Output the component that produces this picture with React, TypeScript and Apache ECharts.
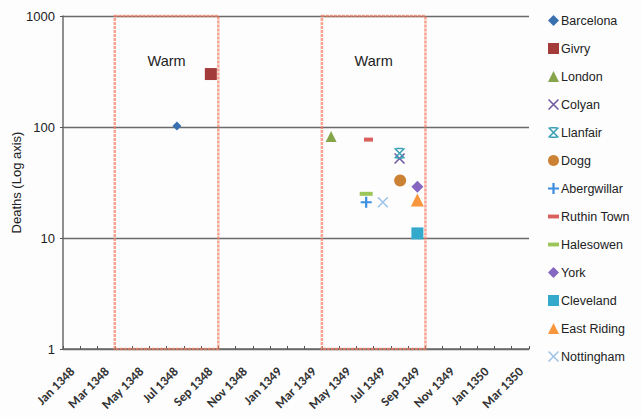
import React, { useEffect, useRef } from "react";
import * as echarts from "echarts";

// ---- data ----
const seriesNames = [
  "Barcelona", "Givry", "London", "Colyan", "Llanfair", "Dogg", "Abergwillar",
  "Ruthin Town", "Halesowen", "York", "Cleveland", "East Riding", "Nottingham",
];
const seriesDates = [
  "1348-07-19", "1348-09-18", "1349-04-17", "1349-08-16", "1349-08-16", "1349-08-17", "1349-06-18",
  "1349-06-22", "1349-06-18", "1349-09-17", "1349-09-17", "1349-09-17", "1349-07-17",
];
const seriesDeaths = [102, 300, 82, 52, 58, 33, 21, 77, 25, 29, 11, 22, 21];

const monthNames = ["Jan", "Feb", "Mar", "Apr", "May", "Jun", "Jul", "Aug", "Sep", "Oct", "Nov", "Dec"];
const axisStart = "1348-01-01";
const axisEnd = "1350-04-01";

const warmStarts = ["1348-04-01", "1349-04-01"];
const warmEnds = ["1348-10-01", "1349-10-01"];
const warmLabels = ["Warm", "Warm"];

// ---- styles ----
const colors = [
  "#3A6FB0", "#A33B3B", "#86A44A", "#6E58A0", "#3A9EB5", "#CC8235", "#3B8EE0",
  "#D9605C", "#9CC65A", "#8566C0", "#33AACC", "#F7963C", "#9DC3E6",
];
const X_PATH = "path://M1,0 L10,9 L9,10 L0,1 Z M9,0 L10,1 L1,10 L0,9 Z";
const STAR_PATH = "path://M1,0 L10,9 L9,10 L0,1 Z M9,0 L10,1 L1,10 L0,9 Z M2,0 H8 V1.3 H2 Z M2,8.7 H8 V10 H2 Z";
const PLUS_PATH = "path://M4,0 H6 V4 H10 V6 H6 V10 H4 V6 H0 V4 H4 Z";
const DASH_PATH = "path://M0,0 H10 V3.5 H0 Z";
const symbols = [
  "diamond", "rect", "triangle", X_PATH, STAR_PATH, "circle", PLUS_PATH,
  "rect", "rect", "diamond", "rect", "triangle", X_PATH,
];
const symbolSizes: any[] = [9, 12, 11, 11, 11, 12, 11, [9, 4], [13, 4], 12, 12, 13, 11];
const legendIcons = [
  "diamond", "rect", "triangle", X_PATH, STAR_PATH, "circle", PLUS_PATH,
  DASH_PATH, DASH_PATH, "diamond", "rect", "triangle", X_PATH,
];

function toMonths(s: string): number {
  const [y, m, d] = s.split("-").map(Number);
  const [y0, m0] = axisStart.split("-").map(Number);
  return (y - y0) * 12 + (m - m0) + (d - 1) / 30;
}

export default function App() {
  const ref = useRef<HTMLDivElement>(null);
  useEffect(() => {
    if (!ref.current) return;
    const chart = echarts.init(ref.current, undefined, { renderer: "svg" });
    const font = "'Liberation Sans', Arial, sans-serif";
    const series: any[] = seriesNames.map((name, i) => ({
      name,
      type: "scatter",
      data: [[toMonths(seriesDates[i]), seriesDeaths[i]]],
      symbol: symbols[i],
      symbolSize: symbolSizes[i],
      itemStyle: { color: colors[i], opacity: 1 },
      z: 5,
    }));
    series[0].markArea = {
      silent: true,
      itemStyle: {
        color: "rgba(255,255,255,0)",
        borderColor: "rgba(242,125,95,0.7)",
        borderWidth: 2.5,
        borderType: [3, 1],
      },
      label: {
        show: true,
        position: "insideTop",
        distance: 39,
        fontSize: 14.5,
        fontFamily: font,
        color: "#222",
      },
      data: warmStarts.map((s, i) => [
        { xAxis: toMonths(s), yAxis: 1000, name: warmLabels[i] },
        { xAxis: toMonths(warmEnds[i]), yAxis: 1 },
      ]),
    };
    chart.setOption({
      animation: false,
      backgroundColor: "#fdfdfe",
      textStyle: { fontFamily: font },
      grid: {
        left: 63, right: 113, top: 16, bottom: 68,
        containLabel: false, outerBoundsMode: "none",
      },
      legend: {
        orient: "vertical",
        left: 543,
        top: 9,
        itemWidth: 11,
        itemHeight: 11,
        itemGap: 15,
        symbolKeepAspect: true,
        textStyle: { fontSize: 12.5, color: "#222", fontFamily: font, padding: [0, 0, 0, -3] },
        data: seriesNames.map((name, i) => ({ name, icon: legendIcons[i] })),
      },
      xAxis: {
        type: "value",
        min: 0,
        max: toMonths(axisEnd),
        interval: 1,
        axisLine: { show: true, lineStyle: { color: "#6a6a6a", width: 1.5 } },
        axisTick: { show: true, inside: true, length: 3, lineStyle: { color: "#555" } },
        splitLine: { show: false },
        axisLabel: {
          rotate: 45,
          margin: 11,
          fontSize: 13,
          lineHeight: 14,
          padding: [6, 0, 0, 0],
          align: "right",
          verticalAlign: "top",
          fontWeight: "bold",
          color: "#333",
          fontFamily: "Carlito, 'Liberation Sans', sans-serif",
          formatter: (v: number) => {
            const n = Math.round(v);
            if (n % 2 !== 0 || n >= 27) return "";
            const [y0] = axisStart.split("-").map(Number);
            return monthNames[n % 12] + " " + (y0 + Math.floor(n / 12));
          },
        },
      },
      yAxis: {
        type: "log",
        logBase: 10,
        min: 1,
        max: 1000,
        name: "Deaths (Log axis)",
        nameLocation: "middle",
        nameGap: 40,
        nameMoveOverlap: false,
        nameTextStyle: { fontSize: 13, color: "#222", fontFamily: font },
        axisLine: { show: true, lineStyle: { color: "#6a6a6a", width: 1.5 } },
        axisTick: { show: true, length: 3, lineStyle: { color: "#555" } },
        axisLabel: {
          fontSize: 13, color: "#222", margin: 8, fontFamily: font,
          formatter: (v: number) => String(Math.round(v)),
        },
        splitLine: { show: true, lineStyle: { color: "#6a6a6a", width: 1.3 } },
      },
      series,
    });
    return () => chart.dispose();
  }, []);
  return (
    <div
      ref={ref}
      style={{ position: "absolute", left: 0, top: 0, width: 642, height: 417 }}
    />
  );
}
